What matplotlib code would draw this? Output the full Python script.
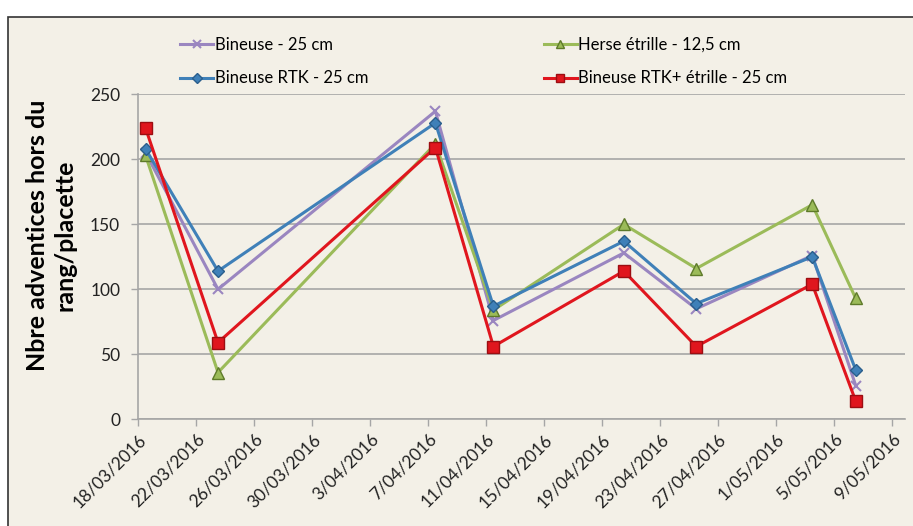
import matplotlib
matplotlib.use("Agg")
import matplotlib.pyplot as plt
import matplotlib.patches as mpatches
from matplotlib.ticker import FuncFormatter
import matplotlib.dates as mdates
import pandas as pd

plt.rcParams['font.family'] = ['Lato', 'DejaVu Sans']

# sampling dates and weed counts per treatment
dates = pd.to_datetime(['2016-03-18', '2016-03-23', '2016-04-07', '2016-04-11',
                        '2016-04-20', '2016-04-25', '2016-05-03', '2016-05-06'])
bineuse = [205, 100, 237, 76, 128, 85, 126, 26]
herse = [203, 36, 212, 84, 150, 116, 165, 93]
bineuse_rtk = [208, 114, 228, 87, 137, 89, 125, 38]
bineuse_rtk_etrille = [224, 59, 209, 56, 114, 56, 104, 14]
series_labels = ['Bineuse - 25 cm', 'Herse étrille - 12,5 cm',
                 'Bineuse RTK - 25 cm', 'Bineuse RTK+ étrille - 25 cm']
tick_dates = pd.date_range('2016-03-18', '2016-05-09', freq='4D')
y_ticks = [0, 50, 100, 150, 200, 250]

bg = '#F3F0E7'
fig = plt.figure(figsize=(9.13, 5.26), dpi=100)
fig.patch.set_facecolor('white')
# framed beige panel
fig.patches.append(mpatches.Rectangle((8 / 913, -0.05), 1.05, 1 - 17 / 526 + 0.05,
                                      transform=fig.transFigure, facecolor=bg,
                                      edgecolor='#333333', linewidth=1.2, zorder=-1))

ax = fig.add_axes([138.3 / 913, 1 - 419.3 / 526, (905 - 138.3) / 913, (419.3 - 94.3) / 526])
ax.set_facecolor('none')
ax.set_zorder(2)

# Excel date axis: points sit in the middle of the day
x = dates + pd.Timedelta(hours=12)

l1, = ax.plot(x, bineuse, color='#9A86C0', lw=2.2, marker='x', ms=7, mew=1.5,
              mec='#9A86C0', zorder=3)
l3, = ax.plot(x, bineuse_rtk, color='#3F80B8', lw=2.2, marker='D', ms=6,
              mfc='#3F80B8', mec='#2A5E8C', zorder=4)
l2, = ax.plot(x, herse, color='#9BBB59', lw=2.2, marker='^', ms=8,
              mfc='#9BBB59', mec='#5E7A2A', zorder=3)
l4, = ax.plot(x, bineuse_rtk_etrille, color='#E0161E', lw=2.2, marker='s', ms=8,
              mfc='#E0161E', mec='#9C0E12', zorder=5)

ax.set_ylim(0, 250)
ax.set_yticks(y_ticks)
ax.set_xlim(tick_dates[0], tick_dates[0] + pd.Timedelta(days=52.9))
ax.set_xticks(tick_dates)
ax.xaxis.set_major_formatter(FuncFormatter(
    lambda v, p: '{}/{}'.format(mdates.num2date(v).day, mdates.num2date(v).strftime('%m/%Y'))))

ax.grid(axis='y', color='#A6A6A6', lw=1.2)
ax.set_axisbelow(True)
for s in ['top', 'right']:
    ax.spines[s].set_visible(False)
for s in ['left', 'bottom']:
    ax.spines[s].set_color('#A6A6A6')
    ax.spines[s].set_linewidth(1.2)
ax.tick_params(axis='both', color='#A6A6A6', length=5, width=1, labelsize=12.5,
               labelcolor='#222222')
ax.tick_params(axis='y', pad=8)
plt.setp(ax.get_xticklabels(), rotation=45, ha='right', rotation_mode='anchor')

ax.set_ylabel('Nbre adventices hors du\nrang/placette', fontsize=18, fontweight='bold',
              linespacing=1.25)
ax.yaxis.set_label_coords(-0.08, 0.565)

fig.legend([l1, l3, l2, l4],
           [series_labels[0], series_labels[2], series_labels[1], series_labels[3]],
           ncol=2, loc='upper left', bbox_to_anchor=(165 / 913, 1 - 22 / 526),
           frameon=False, fontsize=12, handlelength=2, handletextpad=0.1,
           columnspacing=10.5, labelspacing=1.05, markerscale=0.8)

fig.savefig('out.png', dpi=100, facecolor=fig.get_facecolor())
